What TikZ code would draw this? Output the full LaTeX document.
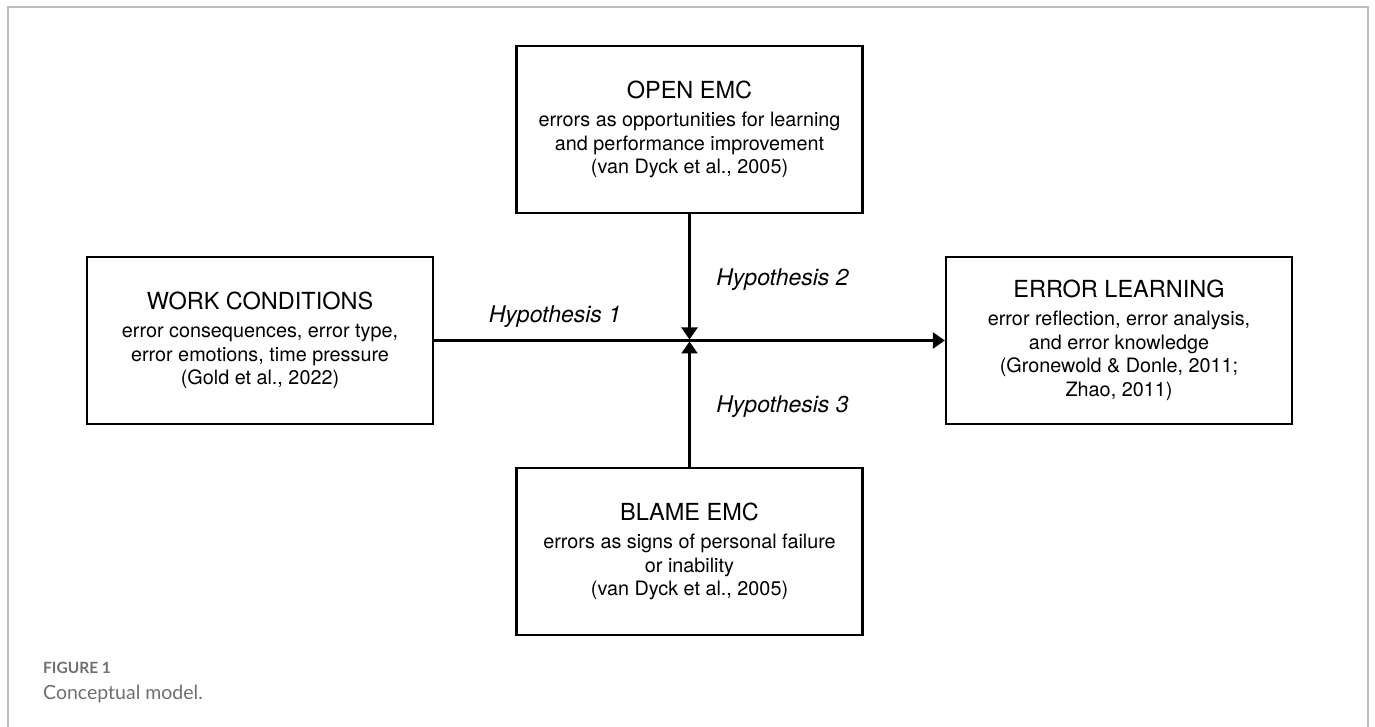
\documentclass[tikz,border=0pt]{standalone}
\usepackage{fontspec}
\setmainfont{TeX Gyre Heros}
\newfontfamily\capfont{Lato}
\usetikzlibrary{arrows.meta}
\usetikzlibrary{positioning}

\definecolor{framegray}{HTML}{BDBDBD}
\definecolor{capgray}{HTML}{707070}

\tikzset{
  emcbox/.style={draw, line width=2.3pt, minimum width=346pt, minimum height=167pt,
    align=center, font=\fontsize{19.8}{23.5}\selectfont},
  hyplabel/.style={font=\fontsize{23}{27}\selectfont\itshape},
  link/.style={line width=2.2pt, -{Triangle[length=12pt,width=16pt]}}
}
\newcommand{\boxtitle}[1]{{\fontsize{23.5}{28}\selectfont #1}}

\begin{document}
\begin{tikzpicture}[x=1pt,y=1pt]
  \useasboundingbox (0,0) rectangle (1375,727);
  % frame
  \draw[framegray, line width=1.3pt] (8,0) -- (8,720) -- (1368,720) -- (1368,0);

  % boxes
  \node[emcbox] (work) at (260,386.5) {\boxtitle{WORK CONDITIONS}\\[4.5pt]
    error consequences, error type,\\ error emotions, time pressure\\ (Gold et al., 2022)};
  \node[emcbox] (open) at (689.5,597.5) {\boxtitle{OPEN EMC}\\[4.5pt]
    errors as opportunities for learning\\ and performance improvement\\ (van Dyck et al., 2005)};
  \node[emcbox] (blame) at (689.5,175.5) {\boxtitle{BLAME EMC}\\[4.5pt]
    errors as signs of personal failure\\ or inability\\ (van Dyck et al., 2005)};
  \node[emcbox] (learn) at (1119,386.5) {\boxtitle{ERROR LEARNING}\\[4.5pt]
    error reflection, error analysis,\\ and error knowledge\\ (Gronewold \& Donle, 2011;\\ Zhao, 2011)};

  % arrows
  \coordinate (mid) at (open.south |- work.east);
  \draw[link] (work.east) -- (learn.west);
  \draw[link, shorten >=1pt] (open.south) -- (mid);
  \draw[link, shorten >=1pt] (blame.north) -- (mid);

  % labels
  \node[hyplabel] (hyp1) at (555,410) {Hypothesis 1};
  \node[hyplabel] (hyp2) at (782.5,447) {Hypothesis 2};
  \node[hyplabel] (hyp3) at (782.5,320) {Hypothesis 3};

  % caption
  \node[anchor=west, inner sep=0, text=capgray, font=\capfont\bfseries\fontsize{15.5}{18}\selectfont] (fig) at (43,59) {FIGURE 1};
  \node[anchor=west, inner sep=0, text=capgray, font=\capfont\fontsize{19.5}{22}\selectfont] (cap) at (43,33) {Conceptual model.};
\end{tikzpicture}
\end{document}
